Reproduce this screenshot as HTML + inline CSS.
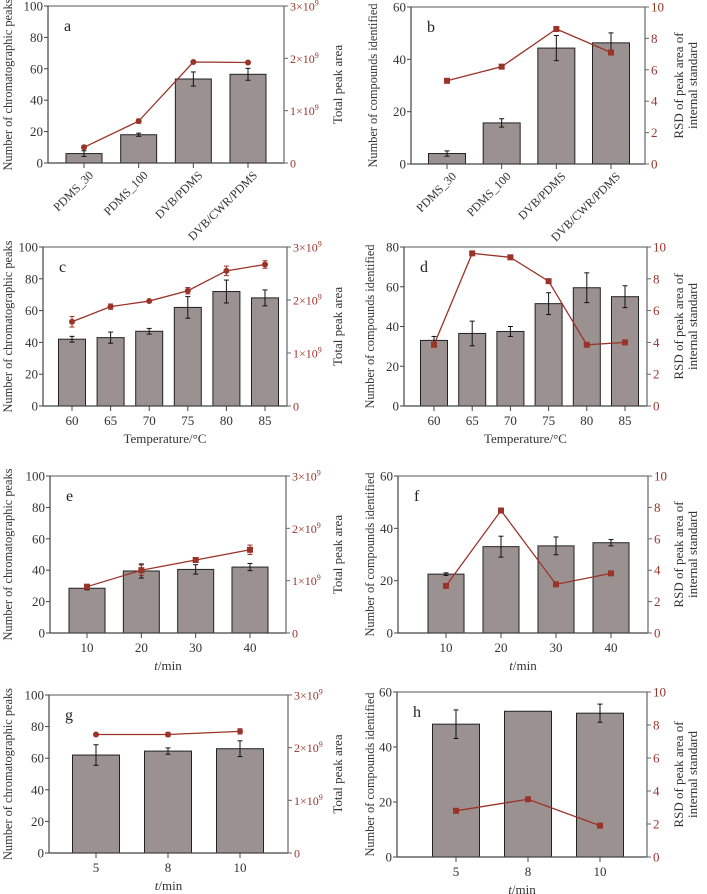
<!DOCTYPE html>
<html><head><meta charset="utf-8"><style>
html,body{margin:0;padding:0;background:#fff;width:707px;height:894px;overflow:hidden}
svg{display:block}
text{font-family:"Liberation Serif","DejaVu Serif",serif}
</style></head><body>
<svg id="fig" width="707" height="894" viewBox="0 0 707 894" xmlns="http://www.w3.org/2000/svg"></svg>
<script>
// ---- data ----
const catA = ["PDMS_30","PDMS_100","DVB/PDMS","DVB/CWR/PDMS"];
const barA = [6,18,53.5,56.5];
const barErrA = [1.8,1,4.5,3.8];
const lineA = [0.3e9,0.8e9,1.93e9,1.92e9];
const lineErrA = [0.03e9,0.04e9,0,0];

const catB = ["PDMS_30","PDMS_100","DVB/PDMS","DVB/CWR/PDMS"];
const barB = [4,15.7,44.3,46.3];
const barErrB = [1,1.6,4.8,3.8];
const lineB = [5.3,6.2,8.6,7.1];

const catC = ["60","65","70","75","80","85"];
const barC = [42,43,47,62,72,68];
const barErrC = [1.8,3.5,1.8,6.8,7.2,5];
const lineC = [1.59e9,1.875e9,1.98e9,2.175e9,2.55e9,2.67e9];
const lineErrC = [0.1e9,0.05e9,0,0.06e9,0.09e9,0.07e9];

const catD = ["60","65","70","75","80","85"];
const barD = [33,36.5,37.5,51.5,59.5,55];
const barErrD = [2,6.2,2.5,5.5,7.5,5.5];
const lineD = [3.85,9.6,9.35,7.85,3.85,4.0];

const catE = ["10","20","30","40"];
const barE = [28.5,39.5,40.5,42];
const barErrE = [1,4.5,3,2.3];
const lineE = [0.885e9,1.2e9,1.395e9,1.59e9];
const lineErrE = [0.03e9,0.1e9,0.03e9,0.09e9];

const catF = ["10","20","30","40"];
const barF = [22.5,33,33.3,34.5];
const barErrF = [0.5,4,3.4,1.2];
const lineF = [3.0,7.8,3.1,3.8];

const catG = ["5","8","10"];
const barG = [62,64.5,66];
const barErrG = [6.5,2,5];
const lineG = [2.25e9,2.25e9,2.31e9];
const lineErrG = [0.02e9,0.04e9,0.05e9];

const catH = ["5","8","10"];
const barH = [48.3,53,52.3];
const barErrH = [5.2,0,3.3];
const lineH = [2.8,3.5,1.9];

const ticksPeaks = [0,20,40,60,80,100];
const ticksArea = [0,1e9,2e9,3e9];
const tickAreaLabels = ["0","1×10","2×10","3×10"];
const ticksRSD = [0,2,4,6,8,10];

const NS="http://www.w3.org/2000/svg";
const svg=document.getElementById('fig');
function el(tag,attrs,parent,txt){const e=document.createElementNS(NS,tag);for(const k in attrs)e.setAttribute(k,attrs[k]);if(txt!==undefined)e.textContent=txt;(parent||svg).appendChild(e);return e;}
const BROWN="#9a3328", AX="#444";

function panel(p){
  const g=el('g',{});
  
  
  const yL=v=>p.bot-(v-p.lmin)/(p.lmax-p.lmin)*(p.bot-p.top);
  const yR=v=>p.bot-v/p.rmax*(p.bot-p.top);
  const n=p.cats.length;
  const xC=i=>p.xs[0]+i*(p.xs[1]-p.xs[0])/(n-1);
  p.bars.forEach((v,i)=>{
    const r=el('rect',{x:xC(i)-p.bw/2,y:yL(v),width:p.bw,height:p.bot-yL(v),fill:"#9c9191",stroke:"#222","stroke-width":1},g);
    
    
    const e=p.barErr[i];
    if(e>0){
      el('line',{x1:xC(i),x2:xC(i),y1:yL(v-e),y2:yL(v+e),stroke:"#111","stroke-width":1},g);
      el('line',{x1:xC(i)-2.5,x2:xC(i)+2.5,y1:yL(v-e),y2:yL(v-e),stroke:"#111"},g);
      el('line',{x1:xC(i)-2.5,x2:xC(i)+2.5,y1:yL(v+e),y2:yL(v+e),stroke:"#111"},g);
    }
  });
  el('line',{x1:p.xl,x2:p.xr,y1:p.top,y2:p.top,stroke:"#777","stroke-width":1.2},g);
  el('line',{x1:p.xl,x2:p.xr,y1:p.bot,y2:p.bot,stroke:AX,"stroke-width":1.2},g);
  el('line',{x1:p.xl,x2:p.xl,y1:p.top,y2:p.bot,stroke:AX,"stroke-width":1.2},g);
  el('line',{x1:p.xr,x2:p.xr,y1:p.top,y2:p.bot,stroke:"#666","stroke-width":1.2},g);
  p.lticks.forEach(t=>{
    el('line',{x1:p.xl-4,x2:p.xl,y1:yL(t),y2:yL(t),stroke:AX},g);
    const tx=el('text',{x:p.xl-5,y:yL(t)+4.5,"text-anchor":"end","font-size":13,fill:"#333"},g,String(t));
    
    
  });
  p.rticks.forEach((t,i)=>{
    el('line',{x1:p.xr,x2:p.xr+4,y1:yR(t),y2:yR(t),stroke:"#666"},g);
    const tx=el('text',{x:p.xr+6,y:yR(t)+4.5,"font-size":p.rlabels?12:13,fill:BROWN},g,p.rlabels?p.rlabels[i]:String(t));
    if(p.rlabels && t!==0){ el('tspan',{dy:-5,"font-size":8},tx,'9'); }
    
    
  });
  p.cats.forEach((c,i)=>{
    el('line',{x1:xC(i),x2:xC(i),y1:p.bot,y2:p.bot+5,stroke:AX},g);
    let tx;
    if(p.rot){
      const ax=xC(i)+10, ay=p.bot+13;
      tx=el('text',{x:ax,y:ay,"text-anchor":"end","font-size":12,fill:"#333",transform:`rotate(-45 ${ax} ${ay})`},g,c);
    }else{
      tx=el('text',{x:xC(i),y:p.bot+19,"text-anchor":"middle","font-size":13,fill:"#333"},g,c);
    }
    
    
  });
  if(p.xtitle){
    const tx=el('text',{x:(p.xl+p.xr)/2,y:p.bot+37,"text-anchor":"middle","font-size":13,fill:"#333"},g);
    if(p.xtitle==='t'){el('tspan',{"font-style":"italic"},tx,'t');el('tspan',{},tx,'/min');}
    else tx.textContent=p.xtitle;
    
    
  }
  const pts=p.line.map((v,i)=>[xC(i),yR(v)]);
  const pl=el('polyline',{points:pts.map(q=>q.join(',')).join(' '),fill:"none",stroke:BROWN,"stroke-width":1.3},g);
  
  
  pts.forEach((q,i)=>{
    const e=p.lineErr?p.lineErr[i]:0;
    if(e>0){
      el('line',{x1:q[0],x2:q[0],y1:yR(p.line[i]-e),y2:yR(p.line[i]+e),stroke:BROWN},g);
      el('line',{x1:q[0]-2.5,x2:q[0]+2.5,y1:yR(p.line[i]-e),y2:yR(p.line[i]-e),stroke:BROWN},g);
      el('line',{x1:q[0]-2.5,x2:q[0]+2.5,y1:yR(p.line[i]+e),y2:yR(p.line[i]+e),stroke:BROWN},g);
    }
    let m;
    if(p.circle) m=el('circle',{cx:q[0],cy:q[1],r:3,fill:BROWN},g);
    else m=el('rect',{x:q[0]-3,y:q[1]-3,width:6,height:6,fill:BROWN},g);
    
    
  });
  const lt=el('text',{x:p.xl+16,y:p.top+25,"font-size":16,fill:"#222"},g,p.letter);
  
  
  const ym=(p.top+p.bot)/2;
  const t1=el('text',{x:p.lt,y:ym,"text-anchor":"middle","font-size":13,fill:"#333",textLength:p.ltLen,lengthAdjust:"spacingAndGlyphs",transform:`rotate(-90 ${p.lt} ${ym})`},g,p.ltitle);
  
  
  p.rtitle.forEach((s,k)=>{
    const xx=p.rt+k*14;
    const t2=el('text',{x:xx,y:ym,"text-anchor":"middle","font-size":13,fill:"#333",transform:`rotate(-90 ${xx} ${ym})`},g,s);
    
    
  });
}
const LP="Number of chromatographic peaks", LC="Number of compounds identified";
const RT=["Total peak area"], RR=["RSD of peak area of","internal standard"];
const leftCommon={lmin:0,lticks:ticksPeaks,lmax:100,rmax:3e9,rticks:ticksArea,rlabels:tickAreaLabels,circle:true,ltitle:LP,ltLen:172,rtitle:RT,lt:12,rt:342};
panel(Object.assign({},leftCommon,{letter:'a',cats:catA,bars:barA,barErr:barErrA,line:lineA,lineErr:lineErrA,xl:48,xr:284,top:6,bot:163,xs:[84,248],bw:36,rot:true}));
panel({letter:'b',cats:catB,bars:barB,barErr:barErrB,line:lineB,xl:411,xr:645,top:7,bot:164,xs:[447,611],bw:37,rot:true,lmin:0,lmax:60,lticks:[0,20,40,60],rmax:10,rticks:ticksRSD,ltitle:LC,ltLen:164,rtitle:RR,lt:377,rt:683});
panel(Object.assign({},leftCommon,{letter:'c',cats:catC,bars:barC,barErr:barErrC,line:lineC,lineErr:lineErrC,xl:43,xr:287,top:247,bot:406,xs:[72,265],bw:27,xtitle:'Temperature/°C'}));
panel({letter:'d',cats:catD,bars:barD,barErr:barErrD,line:lineD,xl:404,xr:647,top:247,bot:406,xs:[434,625],bw:27,xtitle:'Temperature/°C',lmin:0,lmax:80,lticks:[0,20,40,60,80],rmax:10,rticks:ticksRSD,ltitle:LC,ltLen:164,rtitle:RR,lt:374,rt:683});
panel(Object.assign({},leftCommon,{letter:'e',cats:catE,bars:barE,barErr:barErrE,line:lineE,lineErr:lineErrE,circle:false,xl:50,xr:286,top:476,bot:633,xs:[87,250],bw:36,xtitle:'t'}));
panel({letter:'f',cats:catF,bars:barF,barErr:barErrF,line:lineF,xl:398,xr:648,top:476,bot:633,xs:[446,611],bw:36,xtitle:'t',lmin:0,lmax:60,lticks:[0,20,40,60],rmax:10,rticks:ticksRSD,ltitle:LC,ltLen:164,rtitle:RR,lt:374,rt:683});
panel(Object.assign({},leftCommon,{letter:'g',cats:catG,bars:barG,barErr:barErrG,line:lineG,lineErr:lineErrG,xl:49,xr:288,top:695,bot:853,xs:[96,240],bw:47,xtitle:'t'}));
panel({letter:'h',cats:catH,bars:barH,barErr:barErrH,line:lineH,xl:397,xr:647,top:692,bot:857,xs:[456,600],bw:47,xtitle:'t',lmin:0,lmax:60,lticks:[0,20,40,60],rmax:10,rticks:ticksRSD,ltitle:LC,ltLen:164,rtitle:RR,lt:374,rt:683});
</script>
</body></html>
